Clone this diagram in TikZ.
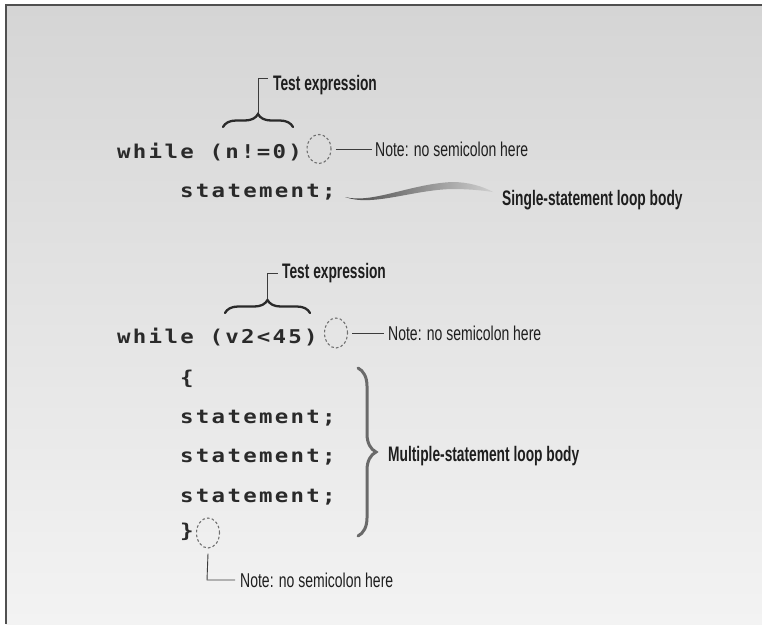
\documentclass[tikz,border=0pt]{standalone}
\usepackage{fontspec}
\usetikzlibrary{decorations.pathreplacing,shapes.geometric}
\newfontfamily\codefont{DejaVu Sans Mono}[LetterSpace=12,FakeStretch=1.18]
\newfontfamily\labr{Liberation Sans}[FakeStretch=0.70]
\newfontfamily\labb{Liberation Sans}[FakeStretch=0.655]
\definecolor{ink}{HTML}{1E1E1E}
\definecolor{codeink}{HTML}{2A2A2A}
\definecolor{lead}{HTML}{3C3C3C}
\definecolor{dashc}{HTML}{707070}
\definecolor{bgtop}{HTML}{D5D5D5}
\definecolor{bgbot}{HTML}{F3F3F3}
\definecolor{framec}{HTML}{505050}
\definecolor{swdark}{HTML}{4A4A4A}
\definecolor{swlight}{HTML}{CFCFCF}
\definecolor{bracegray}{HTML}{6A6A6A}
\begin{document}
\begin{tikzpicture}[x=1pt,y=-1pt,
  code/.style={inner sep=0pt, anchor=base west, text=codeink,
    font={\codefont\bfseries\fontsize{19}{21}\selectfont}},
  notelabel/.style={inner sep=0pt, anchor=base west, text=ink,
    font={\labr\fontsize{20}{22}\selectfont}},
  boldlabel/.style={inner sep=0pt, anchor=base west, text=ink,
    font={\labb\bfseries\fontsize{21}{23}\selectfont}},
  hole/.style={draw=dashc, line width=1.1pt, dash pattern=on 2.6pt off 2.2pt,
    ellipse, inner sep=0pt},
  leader/.style={draw=lead, line width=0.9pt},
  hbrace/.style={draw=codeink, line width=2.3pt, line cap=round,
    decorate, decoration={brace, amplitude=13pt}},
  vbrace/.style={draw=bracegray, line width=3pt, line cap=round,
    decorate, decoration={brace, amplitude=18pt}}
]
\useasboundingbox (0,0) rectangle (762,624);
\fill[white] (0,0) rectangle (762,624);
\shade[top color=bgtop, bottom color=bgbot] (6,5) rectangle (762,624);
\draw[framec, line width=1.2pt] (6,624) -- (6,5) -- (762,5);

% ---------- first loop ----------
\node[code] (w1) at (117,158) {while (n!=0)};
\node[code] (s1) at (180,197) {statement;};
\draw[hbrace] (223,127) -- (293,127);
\coordinate (b1tip) at (258,113);
\coordinate (b1top) at (258,78);
\node[boldlabel] (t1) at (273,90) {Test expression};
\draw[leader] (b1tip) -- (b1top) -- (268,78);

\node[hole, minimum width=24pt, minimum height=29pt] (e1) at (319,149) {};
\node[notelabel] (n1) at (375,156) {Note: no semicolon here};
\draw[leader] ([xshift=4pt]e1.east) -- (372,149);

\shade[left color=swdark, right color=swlight]
  (345,197) .. controls (372,204) and (410,184) .. (452,182)
  .. controls (468,182) and (482,186) .. (493,192)
  .. controls (480,190) and (466,189) .. (452,189)
  .. controls (412,190) and (372,207) .. (345,197) -- cycle;
\node[boldlabel] (sl) at (502,205) {Single-statement loop body};

% ---------- second loop ----------
\node[code] (w2) at (117,343) {while (v2<45)};
\draw[hbrace] (225,313) -- (310,313);
\coordinate (b2tip) at (267.5,299);
\coordinate (b2top) at (267.5,273);
\node[boldlabel] (t2) at (282,278) {Test expression};
\draw[leader] (b2tip) -- (b2top) -- (277.5,273);

\node[hole, minimum width=23pt, minimum height=30pt] (e2) at (336,333) {};
\node[notelabel] (n2) at (388,340) {Note: no semicolon here};
\draw[leader] ([xshift=4pt]e2.east) -- (384,333);

\node[code] (ob) at (180,384) {\{};
\node[code] (st1) at (180,423) {statement;};
\node[code] (st2) at (180,462) {statement;};
\node[code] (st3) at (180,502) {statement;};
\node[code] (cb) at (180,537) {\}};

\draw[vbrace] (358,368) -- (358,536);
\node[boldlabel] (ml) at (388,461) {Multiple-statement loop body};

\node[hole, minimum width=23pt, minimum height=30pt] (e3) at (208,533) {};
\node[notelabel] (n3) at (240,587) {Note: no semicolon here};
\coordinate (c3) at (207,580);
\draw[leader] ([yshift=-5pt]e3.south) -- (c3) -- (235,580);
\end{tikzpicture}
\end{document}
